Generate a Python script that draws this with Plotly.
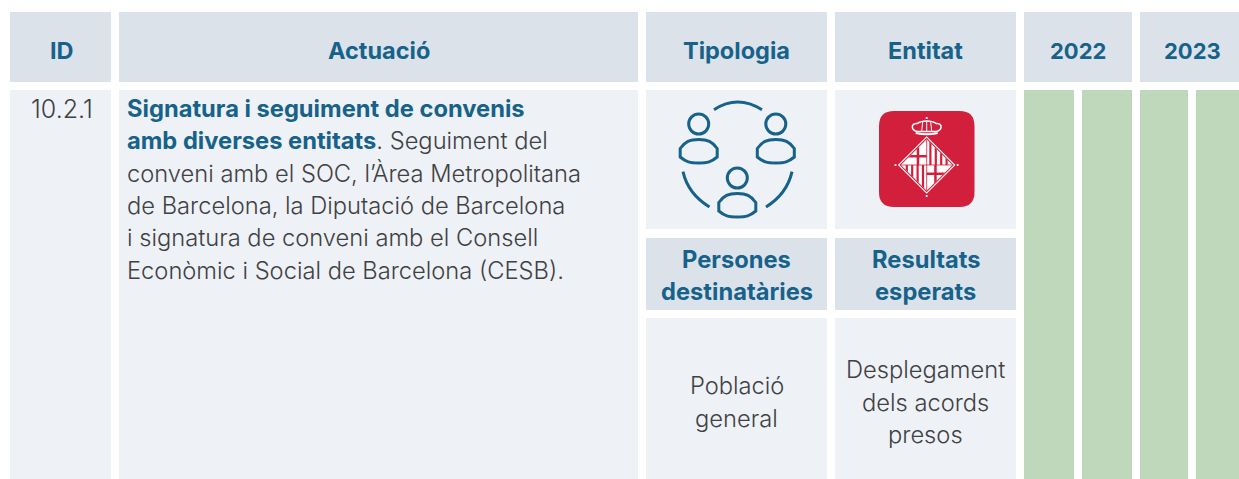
import plotly.graph_objects as go

# ---------- content ----------
header_labels = ["ID", "Actuació", "Tipologia", "Entitat", "2022", "2023"]
row_id = "10.2.1"
TEAL = "#17628A"
action_lines = [
    f"<b style='color:{TEAL}'>Signatura i seguiment de convenis</b>",
    f"<b style='color:{TEAL}'>amb diverses entitats</b>. Seguiment del",
    "conveni amb el SOC, l’Àrea Metropolitana",
    "de Barcelona, la Diputació de Barcelona",
    "i signatura de conveni amb el Consell",
    "Econòmic i Social de Barcelona (CESB).",
]
sub_headers = [["Persones", "destinatàries"], ["Resultats", "esperats"]]
sub_values = [["Població", "general"], ["Desplegament", "dels acords", "presos"]]
gantt_periods = ["2022 S1", "2022 S2", "2023 S1", "2023 S2"]
gantt_active = [1, 1, 1, 1]

# ---------- styles and layout ----------
W, H = 1239, 479
FONT = "Inter"
SIZE = 23.7
TXT = "#3F4145"
HEAD = "#DCE2EA"
CELL = "#EEF1F5"
GREEN = "#BFD8BC"
RED = "#D21F3B"

fig = go.Figure()
shapes, notes = [], []


def rect(x0, y0, x1, y1, c):
    shapes.append(dict(type="rect", x0=x0, y0=y0, x1=x1, y1=y1, fillcolor=c, line_width=0, layer="below"))


def path(d, fill=None, stroke=None, w=0):
    s = dict(type="path", path=d, line=dict(color=stroke or "rgba(0,0,0,0)", width=w))
    if fill:
        s["fillcolor"] = fill
    shapes.append(s)


def circle(cx, cy, r, fill=None, stroke=None, w=0):
    s = dict(type="circle", x0=cx - r, x1=cx + r, y0=cy - r, y1=cy + r,
             line=dict(color=stroke or "rgba(0,0,0,0)", width=w))
    if fill:
        s["fillcolor"] = fill
    shapes.append(s)


def text(x, y, t, color=TXT, size=SIZE, weight=300, anchor="center"):
    notes.append(dict(x=x, y=y, text=t, showarrow=False, xanchor=anchor, yanchor="middle",
                      xref="x", yref="y", align=anchor,
                      font=dict(family=FONT, size=size, color=color, weight=weight)))


HEAD_SPANS = [(10, 111), (119, 638), (646, 827), (835, 1016), (1024, 1132), (1140, 1239)]
HEAD_CX = [62, 378.5, 736.5, 925.5, 1078, 1192]
HEAD_SIZE = [23.5, 23.5, 23.5, 23.5, 22, 22]
for (a, b), c, s, lab in zip(HEAD_SPANS, HEAD_CX, HEAD_SIZE, header_labels):
    rect(a, 12, b, 82, HEAD)
    text(c, 50.5, f"<b>{lab}</b>", TEAL, s)

rect(10, 90, 111, 479, CELL)
rect(119, 90, 638, 479, CELL)
rect(646, 90, 827, 229, CELL)
rect(835, 90, 1016, 229, CELL)
rect(646, 238, 827, 310, HEAD)
rect(835, 238, 1016, 310, HEAD)
rect(646, 318, 827, 479, CELL)
rect(835, 318, 1016, 479, CELL)

text(61.5, 108.5, row_id, size=25)
for i, line in enumerate(action_lines):
    text(125, 108.5 + i * 32.3, line, TXT, SIZE, 300, "left")

for cx, lines in zip((736.5, 925.5), sub_headers):
    for i, l in enumerate(lines):
        text(cx, 259.5 + i * 32.3, f"<b>{l}</b>", TEAL, 23.7)
for cx, y0, lines in zip((736.5, 925.5), (385.5, 369.5), sub_values):
    for i, l in enumerate(lines):
        text(cx, y0 + i * 32.6, l)

# Gantt columns
GANTT_X = [1049, 1107, 1164, 1217.5]
GANTT_W = [50, 50, 48, 43]
fig.add_trace(go.Bar(
    x=GANTT_X, y=[389 * v for v in gantt_active], base=90, width=GANTT_W,
    marker=dict(color=GREEN, line_width=0), customdata=gantt_periods, hoverinfo="skip",
))


# People / network icon
def person(cx, hy, by0, by1):
    circle(cx, hy, 10, None, TEAL, 3)
    l, r = cx - 18.5, cx + 18.5
    t, b = by0 + 1.5, by1 - 1.5
    path(f"M {l} {t+9} C {l+5} {t+2} {cx-9} {t} {cx} {t} C {cx+9} {t} {r-5} {t+2} {r} {t+9} "
         f"L {r} {b-6} C {r-6} {b-1} {cx+9} {b} {cx} {b} C {cx-9} {b} {l+6} {b-1} {l} {b-6} Z",
         None, TEAL, 3)


person(698.7, 124, 138, 164.5)
person(775.8, 124, 138, 164.5)
person(737.3, 178, 192, 218.5)
path("M 714 109.7 Q 737.5 94.3 762 109.7", None, TEAL, 3)
path("M 683 171.7 Q 688 194 709.5 207", None, TEAL, 3)
path("M 792 171.7 Q 787 194 766 207", None, TEAL, 3)

# Barcelona logo
x0, x1, y0, y1, r = 879, 974.5, 111, 207, 15
path(f"M {x0+r} {y0} L {x1-r} {y0} Q {x1} {y0} {x1} {y0+r} L {x1} {y1-r} Q {x1} {y1} {x1-r} {y1} "
     f"L {x0+r} {y1} Q {x0} {y1} {x0} {y1-r} L {x0} {y0+r} Q {x0} {y0} {x0+r} {y0} Z", RED)
cx, cy = 926.7, 165


def diamond(hs, fill):
    path(f"M {cx} {cy-hs} L {cx+hs} {cy} L {cx} {cy+hs} L {cx-hs} {cy} Z", fill)


diamond(28.8, "#FFFFFF")
diamond(27.2, RED)
diamond(25.8, "#FFFFFF")


def vbar(xa, xb, ya_sign):
    ha, hb = 25.8 - abs(xa), 25.8 - abs(xb)
    y = lambda h: cy + ya_sign * h
    path(f"M {cx+xa} {cy} L {cx+xb} {cy} L {cx+xb} {y(hb)} L {cx+xa} {y(ha)} Z", RED)


# pallets in upper right and lower left
for a in (2.6, 8.0, 13.4, 18.8):
    vbar(a, a + 2.2, -1)
    vbar(-a - 2.2, -a, 1)
# crosses in upper left and lower right
vbar(-10.0, -7.5, -1)
vbar(7.5, 10.0, 1)
path(f"M {cx-15.8} {cy-10} L {cx} {cy-10} L {cx} {cy-7.5} L {cx-18.3} {cy-7.5} Z", RED)
path(f"M {cx+18.3} {cy+7.5} L {cx} {cy+7.5} L {cx} {cy+10} L {cx+15.8} {cy+10} Z", RED)
path(f"M {cx-25.8} {cy} L {cx+25.8} {cy}", None, RED, 0.8)
path(f"M {cx} {cy-25.8} L {cx} {cy+25.8}", None, RED, 0.8)

for px, py in ((895.5, 165), (957.7, 165), (926.7, 196), (926.7, 118)):
    circle(px, py, 1.1, "#FFFFFF")
# crown
path(f"M {cx-9.5} {cy-33.5} C {cx-16} {cy-35} {cx-16} {cy-42} {cx-9.5} {cy-41.5} "
     f"C {cx-6} {cy-44} {cx-3} {cy-44} {cx} {cy-44} C {cx+3} {cy-44} {cx+6} {cy-44} {cx+9.5} {cy-41.5} "
     f"C {cx+16} {cy-42} {cx+16} {cy-35} {cx+9.5} {cy-33.5} Z", None, "#FFFFFF", 1.5)
path(f"M {cx-4} {cy-43} L {cx-5} {cy-34} M {cx+4} {cy-43} L {cx+5} {cy-34} M {cx} {cy-44} L {cx} {cy-34}", None, "#FFFFFF", 1.0)
path(f"M {cx-11} {cy-32} Q {cx} {cy-29.5} {cx+11} {cy-32}", None, "#FFFFFF", 1.8)

fig.update_layout(
    width=W, height=H, margin=dict(l=0, r=0, t=0, b=0),
    paper_bgcolor="#FFFFFF", plot_bgcolor="#FFFFFF", showlegend=False,
    shapes=shapes, annotations=notes,
    xaxis=dict(range=[0, W], visible=False, fixedrange=True),
    yaxis=dict(range=[H, 0], visible=False, fixedrange=True),
)
fig.write_html("out.html", config=dict(displayModeBar=False),
               post_script="document.body.style.margin='0';document.body.style.overflow='hidden';")
